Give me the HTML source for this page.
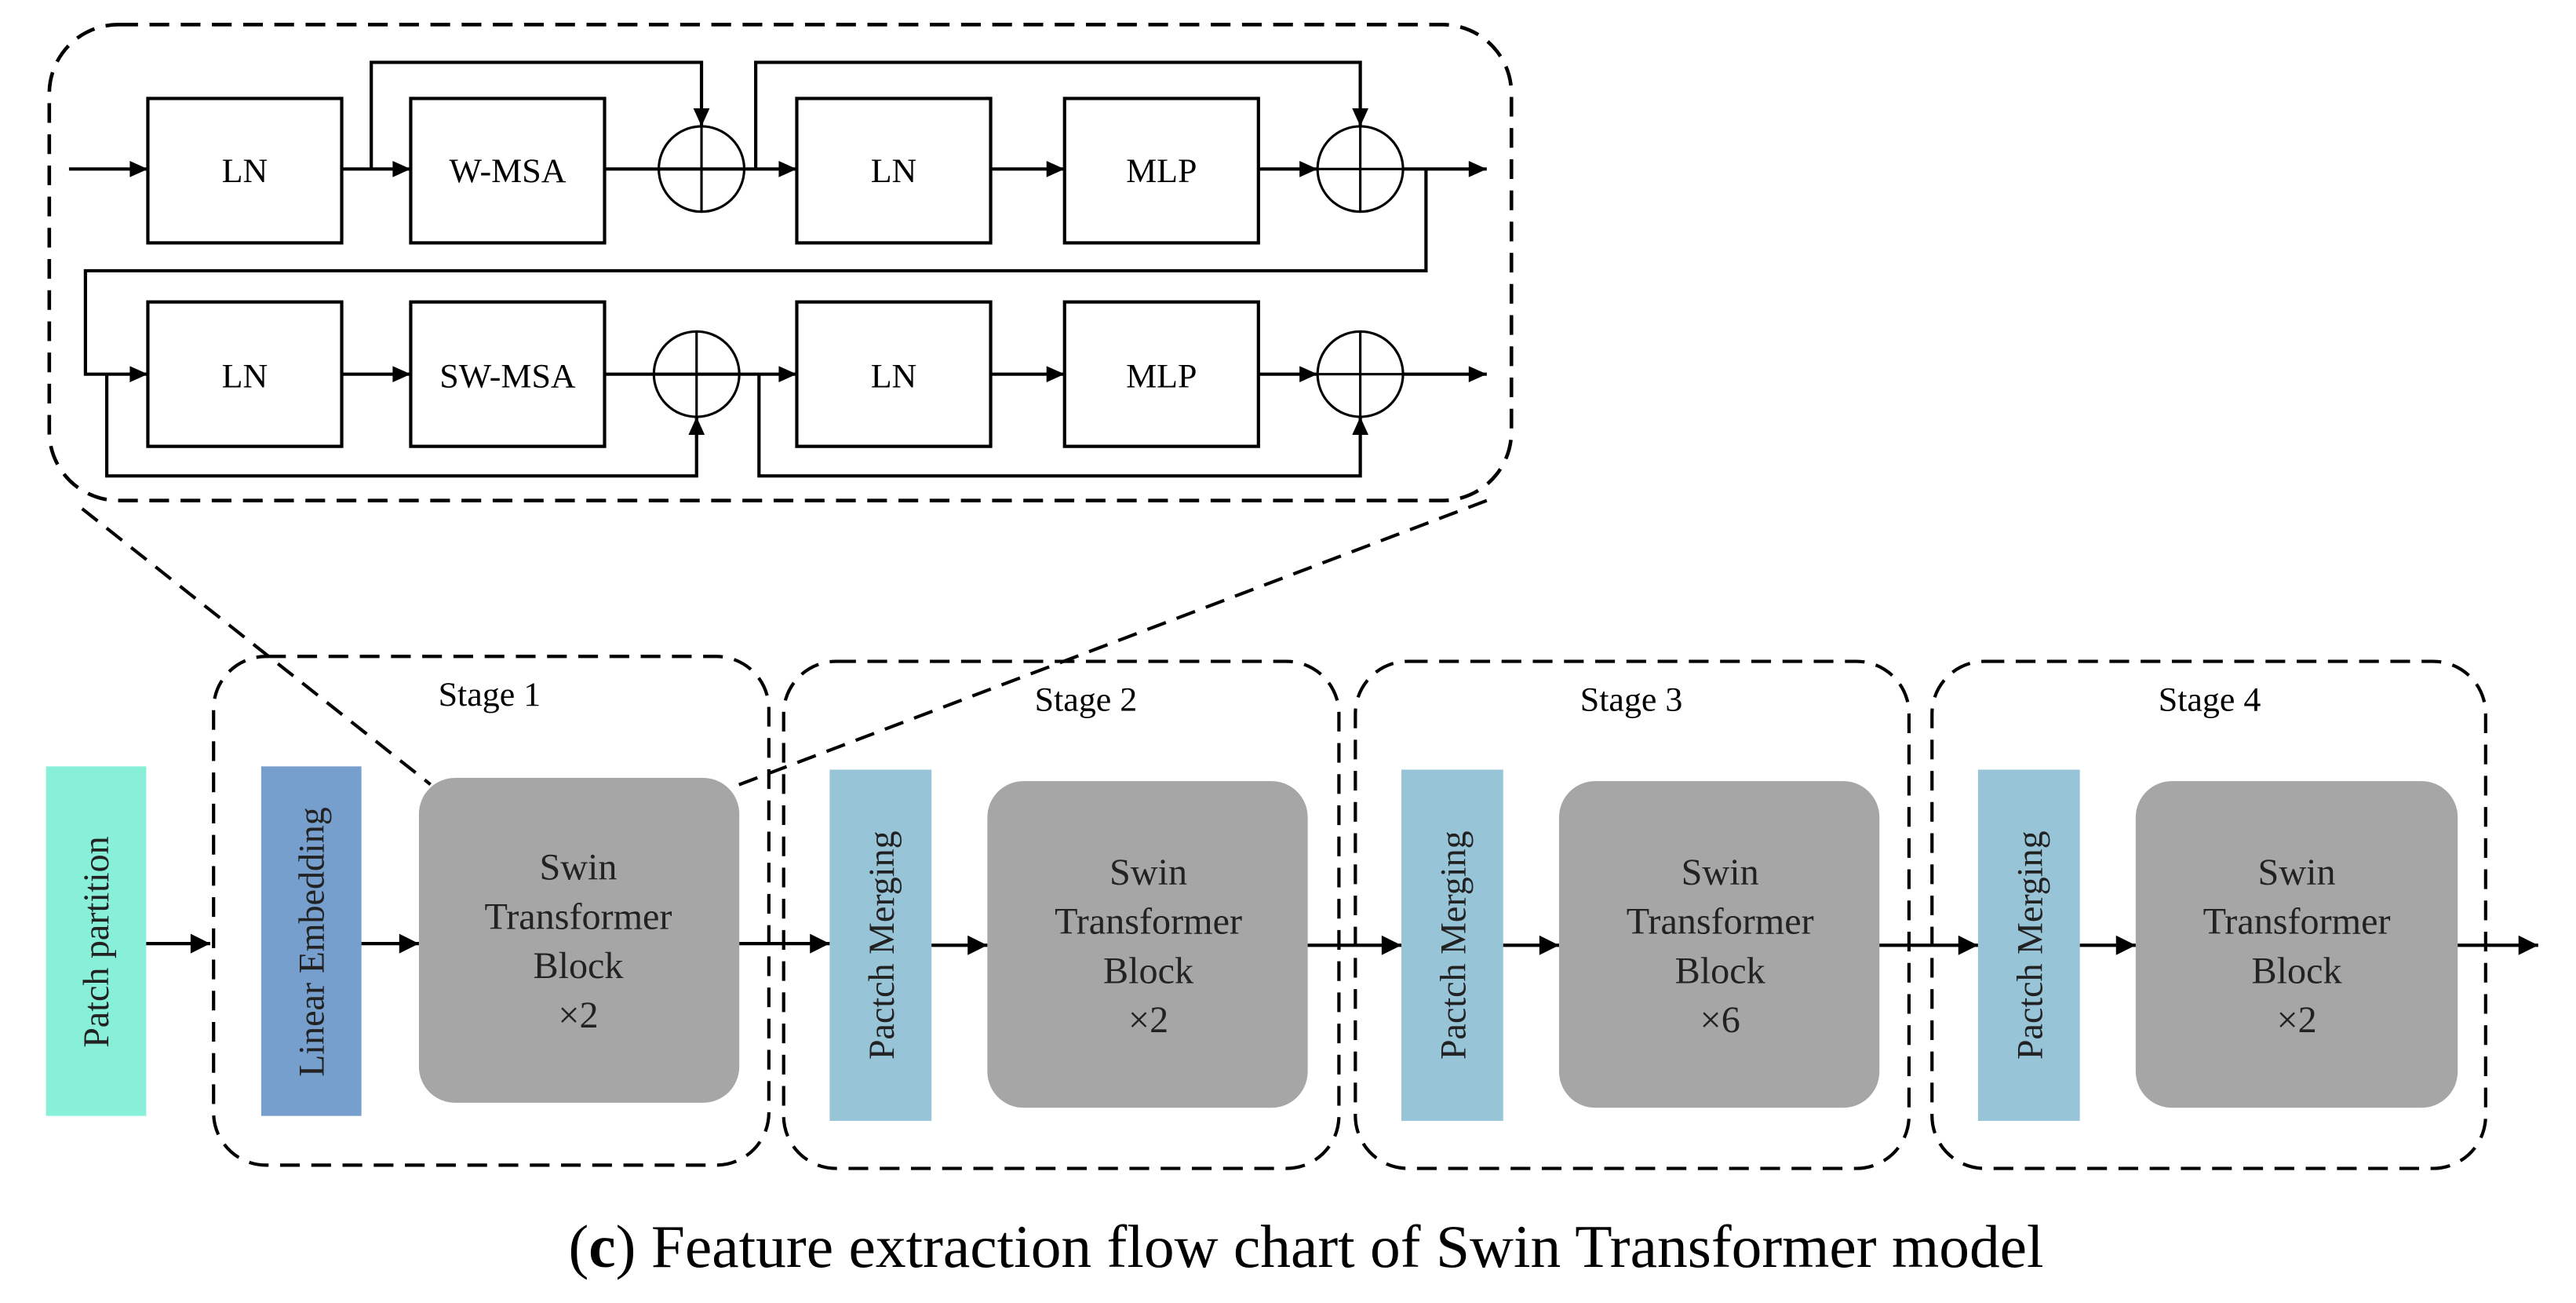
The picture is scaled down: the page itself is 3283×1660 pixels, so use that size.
<!DOCTYPE html>
<html><head><meta charset="utf-8"><style>html,body{margin:0;padding:0;background:#fff}svg{display:block}text{font-family:"Liberation Serif",serif}</style></head>
<body>
<svg width="3283" height="1660" viewBox="0 0 1568 794" preserveAspectRatio="none" xmlns="http://www.w3.org/2000/svg">
<defs>
<marker id="a" viewBox="0 0 10 10" refX="10" refY="5" markerWidth="14" markerHeight="11" markerUnits="userSpaceOnUse" orient="auto"><path d="M0,0.5 L10,5 L0,9.5z" fill="#000"/></marker>
<marker id="b" viewBox="0 0 10 10" refX="10" refY="5" markerWidth="15" markerHeight="12" markerUnits="userSpaceOnUse" orient="auto"><path d="M0,0 L10,5 L0,10z" fill="#000"/></marker>
</defs>
<g fill="none" stroke="#000">
<rect x="30" y="15" width="890" height="290" rx="42" stroke-width="2.2" stroke-dasharray="12,7"/>
<g stroke-width="2">
<rect x="90" y="60" width="118" height="88"/><rect x="250" y="60" width="118" height="88"/>
<rect x="485" y="60" width="118" height="88"/><rect x="648" y="60" width="118" height="88"/>
<rect x="90" y="184" width="118" height="88"/><rect x="250" y="184" width="118" height="88"/>
<rect x="485" y="184" width="118" height="88"/><rect x="648" y="184" width="118" height="88"/>
</g>
<g stroke-width="1.5">
<circle cx="427" cy="103" r="26"/><line x1="401" y1="103" x2="453" y2="103"/><line x1="427" y1="77" x2="427" y2="129"/>
<circle cx="828" cy="103" r="26"/><line x1="802" y1="103" x2="854" y2="103"/><line x1="828" y1="77" x2="828" y2="129"/>
<circle cx="424" cy="228" r="26"/><line x1="398" y1="228" x2="450" y2="228"/><line x1="424" y1="202" x2="424" y2="254"/>
<circle cx="828" cy="228" r="26"/><line x1="802" y1="228" x2="854" y2="228"/><line x1="828" y1="202" x2="828" y2="254"/>
</g>
<g stroke-width="2">
<line x1="42" y1="103" x2="90" y2="103" marker-end="url(#a)"/>
<line x1="208" y1="103" x2="250" y2="103" marker-end="url(#a)"/>
<line x1="368" y1="103" x2="485" y2="103" marker-end="url(#a)"/>
<line x1="603" y1="103" x2="648" y2="103" marker-end="url(#a)"/>
<line x1="766" y1="103" x2="802" y2="103" marker-end="url(#a)"/>
<line x1="854" y1="103" x2="905" y2="103" marker-end="url(#a)"/>
<polyline points="226,103 226,38 427,38 427,77" marker-end="url(#a)"/>
<polyline points="460,103 460,38 828,38 828,77" marker-end="url(#a)"/>
<polyline points="868,103 868,165 52,165 52,228 90,228" marker-end="url(#a)"/>
<line x1="208" y1="228" x2="250" y2="228" marker-end="url(#a)"/>
<line x1="368" y1="228" x2="485" y2="228" marker-end="url(#a)"/>
<line x1="603" y1="228" x2="648" y2="228" marker-end="url(#a)"/>
<line x1="766" y1="228" x2="802" y2="228" marker-end="url(#a)"/>
<line x1="854" y1="228" x2="905" y2="228" marker-end="url(#a)"/>
<polyline points="65,228 65,290 424,290 424,254" marker-end="url(#a)"/>
<polyline points="462,228 462,290 828,290 828,254" marker-end="url(#a)"/>
</g>
<g fill="#000" stroke="none" font-size="21" text-anchor="middle">
<text x="149" y="111">LN</text><text x="309" y="111">W-MSA</text><text x="544" y="111">LN</text><text x="707" y="111">MLP</text>
<text x="149" y="236">LN</text><text x="309" y="236">SW-MSA</text><text x="544" y="236">LN</text><text x="707" y="236">MLP</text>
</g>
<line x1="50" y1="310" x2="262" y2="478" stroke-width="2" stroke-dasharray="12,7"/>
<line x1="905" y1="305" x2="445" y2="480" stroke-width="2" stroke-dasharray="12,7"/>
<g stroke-width="2" stroke-dasharray="12,7">
<rect x="130" y="400" width="338" height="310" rx="32"/>
<rect x="477" y="403" width="338" height="309" rx="32"/>
<rect x="825" y="403" width="337" height="309" rx="32"/>
<rect x="1176" y="403" width="337" height="309" rx="32"/>
</g>
<g stroke="none">
<rect x="28" y="467" width="61" height="213" fill="#88f0d8"/>
<rect x="159" y="467" width="61" height="213" fill="#769fcd"/>
<rect x="505" y="469" width="62" height="214" fill="#98c4d8"/>
<rect x="853" y="469" width="62" height="214" fill="#98c4d8"/>
<rect x="1204" y="469" width="62" height="214" fill="#98c4d8"/>
<rect x="255" y="474" width="195" height="198" rx="22" fill="#a6a6a6"/>
<rect x="601" y="476" width="195" height="199" rx="22" fill="#a6a6a6"/>
<rect x="949" y="476" width="195" height="199" rx="22" fill="#a6a6a6"/>
<rect x="1300" y="476" width="196" height="199" rx="22" fill="#a6a6a6"/>
</g>
<g stroke-width="2">
<line x1="89" y1="575" x2="128" y2="575" marker-end="url(#b)"/>
<line x1="220" y1="575" x2="255" y2="575" marker-end="url(#b)"/>
<line x1="450" y1="575" x2="505" y2="575" marker-end="url(#b)"/>
<line x1="567" y1="576" x2="601" y2="576" marker-end="url(#b)"/>
<line x1="796" y1="576" x2="853" y2="576" marker-end="url(#b)"/>
<line x1="915" y1="576" x2="949" y2="576" marker-end="url(#b)"/>
<line x1="1144" y1="576" x2="1204" y2="576" marker-end="url(#b)"/>
<line x1="1266" y1="576" x2="1300" y2="576" marker-end="url(#b)"/>
<line x1="1496" y1="576" x2="1545" y2="576" marker-end="url(#b)"/>
</g>
<g fill="#000" stroke="none" font-size="21" text-anchor="middle">
<text x="298" y="430">Stage 1</text><text x="661" y="433">Stage 2</text>
<text x="993" y="433">Stage 3</text><text x="1345" y="433">Stage 4</text>
</g>
<g fill="#222" stroke="none" font-size="22" text-anchor="middle">
<text transform="translate(66,574) rotate(-90)">Patch partition</text>
<text transform="translate(197,574) rotate(-90)">Linear Embedding</text>
<text transform="translate(544,576) rotate(-90)">Pactch Merging</text>
<text transform="translate(892,576) rotate(-90)">Pactch Merging</text>
<text transform="translate(1243,576) rotate(-90)">Pactch Merging</text>
</g>
<g fill="#222" stroke="none" font-size="23" text-anchor="middle">
<text x="352" y="536">Swin</text><text x="352" y="566">Transformer</text><text x="352" y="596">Block</text><text x="352" y="626">×2</text>
<text x="699" y="539">Swin</text><text x="699" y="569">Transformer</text><text x="699" y="599">Block</text><text x="699" y="629">×2</text>
<text x="1047" y="539">Swin</text><text x="1047" y="569">Transformer</text><text x="1047" y="599">Block</text><text x="1047" y="629">×6</text>
<text x="1398" y="539">Swin</text><text x="1398" y="569">Transformer</text><text x="1398" y="599">Block</text><text x="1398" y="629">×2</text>
</g>
<text x="795" y="772" fill="#000" stroke="none" font-size="37" text-anchor="middle">(<tspan font-weight="bold">c</tspan>) Feature extraction flow chart of Swin Transformer model</text>
</g>
</svg>
</body></html>
